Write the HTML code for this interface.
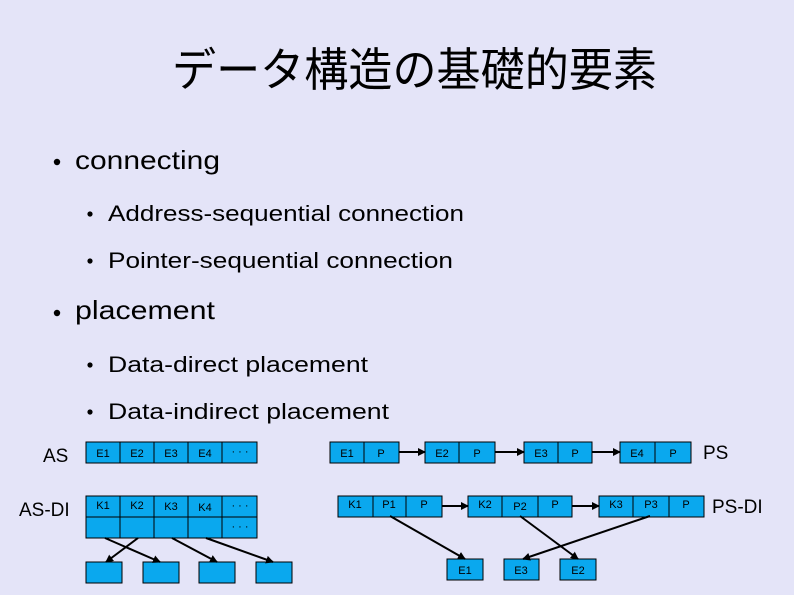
<!DOCTYPE html>
<html><head><meta charset="utf-8"><style>
html,body{margin:0;padding:0;background:#e4e4f8;}
svg{display:block}
text{font-family:"Liberation Sans","Noto Sans CJK JP",sans-serif;fill:#000}
.c{font-size:11px;text-anchor:middle}
</style></head><body>
<svg width="794" height="595" viewBox="0 0 794 595" xmlns="http://www.w3.org/2000/svg">
<defs><marker id="a" markerWidth="8" markerHeight="8" refX="7" refY="4" orient="auto" markerUnits="userSpaceOnUse"><path d="M0,0 L8,4 L0,8 z" fill="#000"/></marker></defs>
<rect width="794" height="595" fill="#e4e4f8"/>
<text x="172" y="86" font-size="46" textLength="485" lengthAdjust="spacingAndGlyphs" style="font-family:'Noto Sans CJK JP',sans-serif">データ構造の基礎的要素</text>
<circle cx="57" cy="162" r="3.2"/>
<text x="75" y="169" font-size="26" textLength="145" lengthAdjust="spacingAndGlyphs">connecting</text>
<circle cx="90" cy="214" r="2.6"/>
<text x="108" y="221" font-size="22" textLength="356" lengthAdjust="spacingAndGlyphs">Address-sequential connection</text>
<circle cx="90" cy="261" r="2.6"/>
<text x="108" y="268" font-size="22" textLength="345" lengthAdjust="spacingAndGlyphs">Pointer-sequential connection</text>
<circle cx="57" cy="313" r="3.2"/>
<text x="75" y="319" font-size="26" textLength="140" lengthAdjust="spacingAndGlyphs">placement</text>
<circle cx="90" cy="365" r="2.6"/>
<text x="108" y="372" font-size="22" textLength="260" lengthAdjust="spacingAndGlyphs">Data-direct placement</text>
<circle cx="90" cy="412" r="2.6"/>
<text x="108" y="419" font-size="22" textLength="281" lengthAdjust="spacingAndGlyphs">Data-indirect placement</text>

<g stroke="#000" stroke-width="1" fill="#0aa8ee">
<!-- AS -->
<rect x="86" y="442" width="34" height="21"/><rect x="120" y="442" width="34" height="21"/><rect x="154" y="442" width="34" height="21"/><rect x="188" y="442" width="34" height="21"/><rect x="222" y="442" width="35" height="21"/>
<!-- AS-DI -->
<rect x="86" y="496" width="34" height="21"/><rect x="120" y="496" width="34" height="21"/><rect x="154" y="496" width="34" height="21"/><rect x="188" y="496" width="34" height="21"/><rect x="222" y="496" width="35" height="21"/>
<rect x="86" y="517" width="34" height="21"/><rect x="120" y="517" width="34" height="21"/><rect x="154" y="517" width="34" height="21"/><rect x="188" y="517" width="34" height="21"/><rect x="222" y="517" width="35" height="21"/>
<rect x="86" y="562" width="36" height="21"/><rect x="143" y="562" width="36" height="21"/><rect x="199" y="562" width="36" height="21"/><rect x="256" y="562" width="36" height="21"/>
<!-- PS -->
<rect x="330" y="442" width="34" height="21"/><rect x="364" y="442" width="35" height="21"/>
<rect x="425" y="442" width="34" height="21"/><rect x="459" y="442" width="36" height="21"/>
<rect x="524" y="442" width="34" height="21"/><rect x="558" y="442" width="34" height="21"/>
<rect x="620" y="442" width="35" height="21"/><rect x="655" y="442" width="36" height="21"/>
<!-- PS-DI -->
<rect x="338" y="496" width="35" height="21"/><rect x="373" y="496" width="33" height="21"/><rect x="406" y="496" width="36" height="21"/>
<rect x="468" y="496" width="34" height="21"/><rect x="502" y="496" width="36" height="21"/><rect x="538" y="496" width="34" height="21"/>
<rect x="599" y="496" width="34" height="21"/><rect x="633" y="496" width="36" height="21"/><rect x="669" y="496" width="35" height="21"/>
<rect x="447" y="559" width="36" height="21"/><rect x="504" y="559" width="35" height="21"/><rect x="560" y="559" width="36" height="21"/>
</g>
<g stroke="#000" stroke-width="2" fill="none" marker-end="url(#a)">
<line x1="105" y1="538" x2="160" y2="562"/>
<line x1="138" y1="538" x2="106" y2="562"/>
<line x1="172" y1="538" x2="217" y2="562"/>
<line x1="206" y1="538" x2="273" y2="562"/>
<line x1="399" y1="452" x2="425" y2="452"/>
<line x1="495" y1="452" x2="524" y2="452"/>
<line x1="592" y1="452" x2="620" y2="452"/>
<line x1="442" y1="506" x2="468" y2="506"/>
<line x1="572" y1="506" x2="599" y2="506"/>
<line x1="390" y1="516" x2="465" y2="559"/>
<line x1="520" y1="516" x2="578" y2="559"/>
<line x1="650" y1="516" x2="523" y2="559"/>
</g>
<g class="c">
<text class="c" x="103" y="457">E1</text><text class="c" x="137" y="457">E2</text><text class="c" x="171" y="457">E3</text><text class="c" x="205" y="457">E4</text><text class="c" x="240" y="455">· · ·</text>
<text class="c" x="103" y="509">K1</text><text class="c" x="137" y="509">K2</text><text class="c" x="171" y="510">K3</text><text class="c" x="205" y="511">K4</text><text class="c" x="240" y="509">· · ·</text><text class="c" x="240" y="530">· · ·</text>
<text class="c" x="347" y="457">E1</text><text class="c" x="381" y="457">P</text>
<text class="c" x="442" y="457">E2</text><text class="c" x="477" y="457">P</text>
<text class="c" x="541" y="457">E3</text><text class="c" x="575" y="457">P</text>
<text class="c" x="637" y="457">E4</text><text class="c" x="673" y="457">P</text>
<text class="c" x="355" y="508">K1</text><text class="c" x="389" y="508">P1</text><text class="c" x="424" y="508">P</text>
<text class="c" x="485" y="508">K2</text><text class="c" x="520" y="510">P2</text><text class="c" x="555" y="508">P</text>
<text class="c" x="616" y="508">K3</text><text class="c" x="651" y="508">P3</text><text class="c" x="686" y="508">P</text>
<text class="c" x="465" y="574">E1</text><text class="c" x="521" y="574">E3</text><text class="c" x="578" y="574">E2</text>
</g>
<text x="43" y="462" font-size="19">AS</text>
<text x="19" y="516" font-size="19">AS-DI</text>
<text x="703" y="459" font-size="19">PS</text>
<text x="712" y="513" font-size="19">PS-DI</text>
</svg>
</body></html>
